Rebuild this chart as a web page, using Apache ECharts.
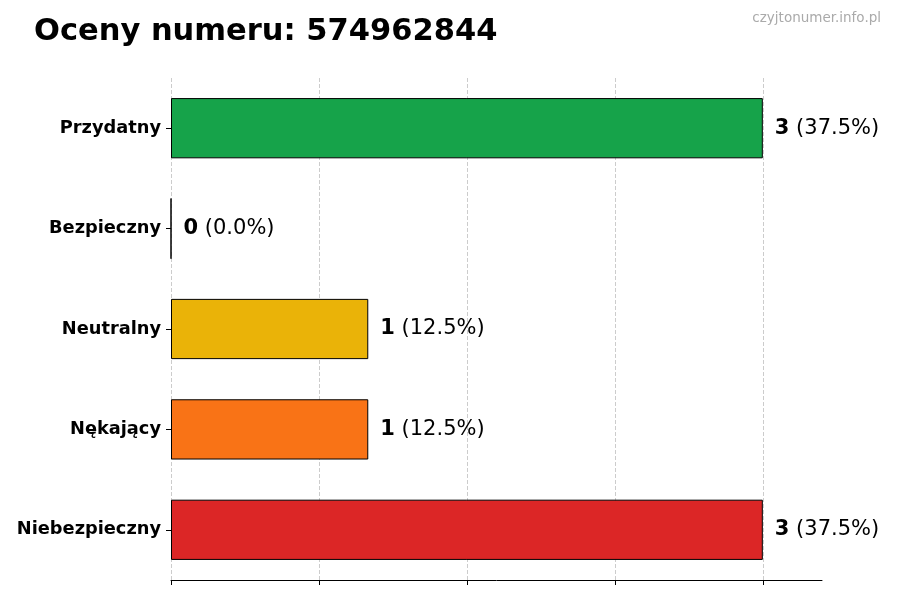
<!DOCTYPE html>
<html lang="pl">
<head>
<meta charset="UTF-8">
<title>Oceny numeru</title>
<script src="https://cdn.jsdelivr.net/npm/echarts@6/dist/echarts.min.js"></script>
<style>body{margin:0}#main{width:900px;height:600px}</style>
</head>
<body>
<div id="main"></div>
<script>
const categories = ['Przydatny', 'Bezpieczny', 'Neutralny', 'Nękający', 'Niebezpieczny'];
const counts = [3, 0, 1, 1, 3];
const colors = ['#16a34a', '#16a34a', '#eab308', '#f97316', '#dc2626'];
const xTicks = [0, 0.75, 1.5, 2.25, 3];
const total = counts.reduce((a, b) => a + b, 0);

const chart = echarts.init(document.getElementById('main'));
chart.setOption({
    animation: false,
    title: [
        { text: 'Oceny numeru: 574962844', left: 29, top: 12,
          textStyle: { fontFamily: 'DejaVu Sans', fontSize: 30.5, fontWeight: 'bold', color: '#000' } },
        { text: 'czyjtonumer.info.pl', right: 14, top: 6,
          textStyle: { fontFamily: 'DejaVu Sans', fontSize: 13.5, fontWeight: 'normal', color: '#aaa' } }
    ],
    grid: { left: 171, right: 78, top: 78, bottom: 20 },
    xAxis: {
        type: 'value', min: 0, max: 3.3,
        axisLabel: { show: false, customValues: xTicks },
        axisLine: { show: true, lineStyle: { color: '#000' } },
        axisTick: { show: true, length: 5, lineStyle: { color: '#000' }, customValues: xTicks },
        splitLine: { show: true, lineStyle: { type: 'dashed', color: '#ccc' } }
    },
    yAxis: {
        type: 'category', inverse: true, data: categories,
        axisLine: { show: false },
        axisTick: { show: true, alignWithLabel: true, length: 5, lineStyle: { color: '#000' } },
        axisLabel: { fontFamily: 'DejaVu Sans', fontSize: 17.8, fontWeight: 'bold', color: '#000', margin: 10 }
    },
    series: [{
        type: 'bar', barWidth: '60%',
        data: counts.map((v, i) => ({ value: v, itemStyle: { color: colors[i] } })),
        itemStyle: { borderColor: '#000', borderWidth: 1 },
        label: {
            show: true, position: 'right', distance: 12,
            formatter: p => '{b|' + p.value + '}{n| (' + (p.value / total * 100).toFixed(1) + '%)}',
            rich: {
                b: { fontFamily: 'DejaVu Sans', fontSize: 21, fontWeight: 'bold', color: '#000' },
                n: { fontFamily: 'DejaVu Sans', fontSize: 21, color: '#000' }
            }
        }
    }]
});
</script>
</body>
</html>
